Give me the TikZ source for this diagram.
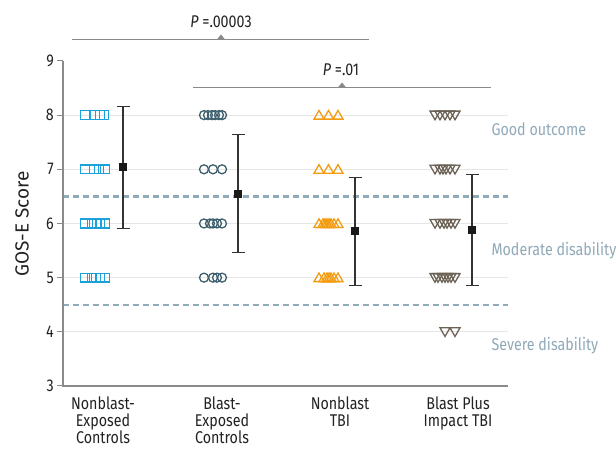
\documentclass[tikz,border=0pt]{standalone}
\usepackage{fontspec}
\setmainfont[FakeStretch=0.84]{Fira Sans}
\newfontfamily\titlefont{Fira Sans}
\definecolor{sqblue}{HTML}{1BA1DC}
\definecolor{circc}{HTML}{3E5F6D}
\definecolor{tric}{HTML}{F39C12}
\definecolor{dtric}{HTML}{6B6255}
\definecolor{gridc}{HTML}{E6E6E6}
\definecolor{dashc}{HTML}{8FAAB8}
\definecolor{axisc}{HTML}{8A8A8A}
\definecolor{zonec}{HTML}{8FA9B8}
\definecolor{txtc}{HTML}{222222}
\newcommand\mksq[2]{\draw[sqblue, line width=1.3pt] (#1,#2) ++(-4.4pt,-4.4pt) rectangle ++(8.8pt,8.8pt);}
\newcommand\mkci[2]{\draw[circc, line width=1.3pt] (#1,#2) circle[radius=4.5pt];}
\newcommand\mktr[2]{\draw[tric, line width=1.3pt] (#1,#2) ++(-5pt,-4pt) -- ++(10pt,0pt) -- ++(-5pt,8.66pt) -- cycle;}
\newcommand\mkdt[2]{\draw[dtric, line width=1.3pt] (#1,#2) ++(-5pt,4pt) -- ++(10pt,0pt) -- ++(-5pt,-8.66pt) -- cycle;}
\tikzset{
  errbar/.style={draw=black!80, line width=1.2pt},
  meanpt/.style={fill=black!90},
  lbl/.style={text=txtc, font=\fontsize{17}{17}\selectfont},
  zone/.style={text=zonec, font=\fontsize{17}{17}\selectfont, anchor=west},
  pline/.style={draw=axisc, line width=1pt},
}
\begin{document}
\begin{tikzpicture}[x=1pt,y=1pt]
\useasboundingbox (0,0) rectangle (616,449);
\begin{scope}[y=54.17pt, yshift=-99.5pt]
  \foreach \v in {4,...,8} \draw[gridc, line width=1.2pt] (63,\v) -- (508,\v);
  \draw[dashc, line width=2.3pt, dash pattern=on 6pt off 4pt] (63,6.5) -- (508,6.5);
  \draw[dashc, line width=2.3pt, dash pattern=on 6pt off 4pt] (63,4.5) -- (508,4.5);
  \draw[axisc, line width=1.5pt] (63,9) -- (63,3) -- (508,3);
  \foreach \v in {3,...,9} {
    \draw[axisc, line width=1pt] (57,\v) -- (63,\v);
    \node[lbl, anchor=east, inner sep=0pt] (t\v) at (54,\v) {\v};
  }
  % group 1: squares
  \foreach \x in {85,95,100,104} \mksq{\x}{8};
  \foreach \x in {85,94,99,105} \mksq{\x}{7};
  \foreach \x in {85,92,97,100,105} \mksq{\x}{6};
  \foreach \x in {85,92,96,100,105} \mksq{\x}{5};
  % group 2: circles
  \foreach \x in {204,208,212,215,219,222} \mkci{\x}{8};
  \foreach \x in {204,213,222} \mkci{\x}{7};
  \foreach \x in {204,210,213,217,222} \mkci{\x}{6};
  \foreach \x in {204,213,217,222} \mkci{\x}{5};
  % group 3: triangles
  \foreach \x in {319,328.5,338} \mktr{\x}{8};
  \foreach \x in {319,328.5,338} \mktr{\x}{7};
  \foreach \x in {319,323,325,327,329,331,334,338} \mktr{\x}{6};
  \foreach \x in {319,324,327,329,331,334,338} \mktr{\x}{5};
  % group 4: down triangles
  \foreach \x in {435,440,445,450,455} \mkdt{\x}{8};
  \foreach \x in {435,440,443,446,450,455} \mkdt{\x}{7};
  \foreach \x in {435,440,444,447,451,455} \mkdt{\x}{6};
  \foreach \x in {435,438,442,445,448,451,455} \mkdt{\x}{5};
  \foreach \x in {445,455} \mkdt{\x}{4};
  % error bars
  \foreach \x/\lo/\m/\hi in {123/5.90/7.04/8.16, 238/5.46/6.55/7.64, 355/4.86/5.86/6.85, 472/4.86/5.88/6.90} {
    \draw[errbar] (\x,\lo) -- (\x,\hi);
    \draw[errbar] (\x-6.5,\lo) -- (\x+6.5,\lo);
    \draw[errbar] (\x-6.5,\hi) -- (\x+6.5,\hi);
    \fill[meanpt] (\x,\m) ++(-4pt,-4pt) rectangle ++(8pt,8pt);
  }
\end{scope}
% P-value brackets
\draw[pline] (72,409) -- (369,409);
\fill[axisc] (216.5,409) -- (225.5,409) -- (221,414.5) -- cycle;
\node[lbl] (p1) at (221,427) {\textit{P} =.00003};
\draw[pline] (193,361) -- (491,361);
\fill[axisc] (337.5,361) -- (346.5,361) -- (342,366.5) -- cycle;
\node[lbl] (p2) at (341,379) {\textit{P} =.01};
% zone labels
\node[zone] (z1) at (488,320) {Good outcome};
\node[zone] (z2) at (488,198.5) {Moderate disability};
\node[zone] (z3) at (488,103) {Severe disability};
% axis title
\node[text=txtc, font=\titlefont\fontsize{19}{19}\selectfont, rotate=90] (yt) at (22,225) {GOS-E Score};
% category labels
\node[lbl, align=center, anchor=north] (c1) at (103,56) {Nonblast-\\Exposed\\Controls};
\node[lbl, align=center, anchor=north] (c2) at (222,56) {Blast-\\Exposed\\Controls};
\node[lbl, align=center, anchor=north] (c3) at (340,56) {Nonblast\\TBI};
\node[lbl, align=center, anchor=north] (c4) at (458,56) {Blast Plus\\Impact TBI};
\end{tikzpicture}
\end{document}
